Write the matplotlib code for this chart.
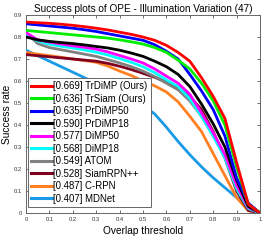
import matplotlib
matplotlib.use('Agg')
import matplotlib.pyplot as plt
import numpy as np

plt.rcParams['font.family'] = ['Liberation Sans', 'DejaVu Sans']

# overlap thresholds (0:0.05:1)
thresholds = np.round(np.arange(0, 1.0001, 0.05), 2)

trdimp   = [.868, .865, .862, .858, .853, .847, .840, .832, .822, .812, .800,
            .785, .762, .730, .690, .615, .530, .430, .230, .040, 0]
trsiam   = [.830, .825, .820, .815, .810, .805, .800, .795, .787, .778, .768,
            .752, .730, .695, .655, .590, .510, .400, .210, .040, 0]
prdimp50 = [.860, .855, .850, .845, .840, .833, .825, .815, .805, .795, .785,
            .765, .735, .700, .630, .555, .470, .350, .160, .045, 0]
prdimp18 = [.800, .787, .780, .775, .770, .764, .757, .750, .740, .727, .712,
            .690, .665, .630, .575, .495, .405, .300, .150, .030, 0]
dimp50   = [.820, .787, .777, .768, .760, .753, .745, .732, .716, .700, .682,
            .655, .622, .590, .540, .455, .365, .265, .125, .025, 0]
dimp18   = [.815, .782, .767, .758, .750, .741, .731, .718, .702, .685, .665,
            .638, .605, .575, .520, .440, .350, .250, .110, .020, 0]
atom     = [.820, .770, .752, .742, .732, .722, .712, .697, .682, .665, .645,
            .620, .590, .560, .510, .440, .350, .260, .120, .025, 0]
siamrpn  = [.720, .715, .710, .705, .700, .695, .690, .680, .667, .652, .635,
            .617, .595, .570, .530, .470, .370, .250, .100, .012, 0]
crpn     = [.730, .722, .715, .708, .700, .693, .685, .668, .645, .625, .600,
            .578, .550, .505, .440, .370, .270, .170, .070, .010, 0]
mdnet    = [.740, .715, .690, .665, .640, .615, .590, .560, .530, .510, .490,
            .450, .390, .325, .265, .210, .160, .115, .070, .030, 0]

labels = ['[0.669] TrDiMP (Ours)', '[0.636] TrSiam (Ours)', '[0.635] PrDiMP50',
          '[0.590] PrDiMP18', '[0.577] DiMP50', '[0.568] DiMP18', '[0.549] ATOM',
          '[0.528] SiamRPN++', '[0.487] C-RPN', '[0.407] MDNet']
series = [trdimp, trsiam, prdimp50, prdimp18, dimp50, dimp18, atom,
          siamrpn, crpn, mdnet]
colors = ['#ff0000', '#00ee00', '#0000ff', '#000000', '#ff00ff', '#00ffff',
          '#808080', '#800020', '#ff8020', '#1a9ae6']

fig = plt.figure(figsize=(2.67, 2.41), dpi=100)
ax = fig.add_axes([26 / 267, 1 - 213 / 241, 234 / 267, 198 / 241])

for i, (vals, lab, col) in enumerate(zip(series, labels, colors)):
    ax.plot(thresholds, vals, color=col, lw=2.0, label=lab, zorder=20 - i)

ax.set_xlim(0, 1)
ax.set_ylim(0, 0.9)
ax.set_xticks(np.arange(0, 1.01, 0.1))
ax.set_xticklabels(['0', '0.1', '0.2', '0.3', '0.4', '0.5', '0.6', '0.7',
                    '0.8', '0.9', '1'])
ax.set_yticks(np.arange(0, 0.91, 0.1))
ax.set_yticklabels(['0', '0.1', '0.2', '0.3', '0.4', '0.5', '0.6', '0.7',
                    '0.8', '0.9'])
ax.tick_params(direction='in', length=2.2, width=0.6, color='#555555',
               labelsize=4.2, labelcolor='#333333', pad=3,
               top=True, right=True)
for s in ax.spines.values():
    s.set_color('#666666')
    s.set_linewidth(0.7)

ax.set_title('Success plots of OPE - Illumination Variation (47)',
             fontsize=7.2, pad=2.5)
ax.set_xlabel('Overlap threshold', fontsize=7.3, labelpad=2.5)
ax.set_ylabel('Success rate', fontsize=7.4, labelpad=1)

leg = ax.legend(loc='lower left', bbox_to_anchor=(0.0085, 0.03),
                borderaxespad=0, fontsize=6.9, handlelength=2.2,
                handletextpad=0.1, labelspacing=0.26, borderpad=0.35,
                fancybox=False, framealpha=1)
leg.get_frame().set_edgecolor('#666666')
leg.get_frame().set_linewidth(0.7)
leg.set_zorder(30)
for line in leg.get_lines():
    line.set_linewidth(2.2)

fig.savefig('out.png', dpi=100)
